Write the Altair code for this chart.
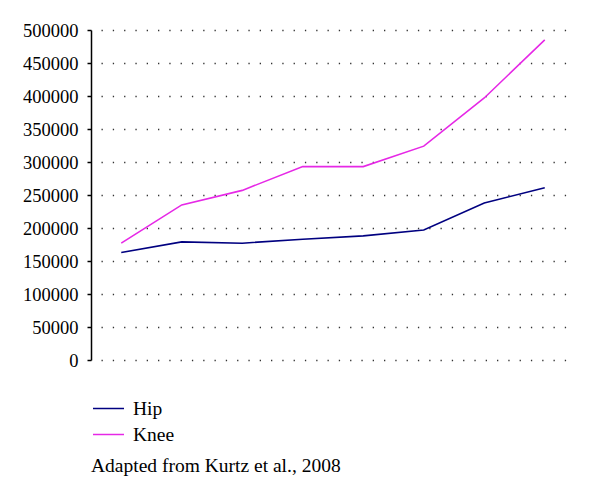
import altair as alt
import pandas as pd

years = [1, 2, 3, 4, 5, 6, 7, 8]
hip = [163000, 179000, 177000, 183000, 188000, 197000, 238000, 261000]
knee = [177000, 235000, 257000, 293000, 293000, 324000, 397000, 485000]
series = ["Hip", "Knee"]
colors = ["#000080", "#e628e6"]
caption = "Adapted from Kurtz et al., 2008"

rows = []
for i, y in enumerate(years):
    rows.append({"idx": y, "series": "Hip", "value": hip[i]})
    rows.append({"idx": y, "series": "Knee", "value": knee[i]})
df = pd.DataFrame(rows)

FONT = "Liberation Serif"

lines = alt.Chart(df).mark_line(strokeWidth=1.6).encode(
    x=alt.X("idx:O", scale=alt.Scale(type="point", padding=0.5), axis=None),
    y=alt.Y(
        "value:Q",
        scale=alt.Scale(domain=[0, 500000], nice=False),
        axis=alt.Axis(
            values=list(range(0, 500001, 50000)),
            title=None,
            format="d",
            labelFont=FONT,
            labelFontSize=18.5,
            labelColor="#000000",
            labelPadding=9,
            domainColor="#000000",
            domainWidth=1.5,
            tickColor="#000000",
            tickSize=4,
            tickWidth=1.5,
            grid=True,
            gridColor="#333333",
            gridWidth=1.3,
            gridDash=[1.3, 10],
            gridDashOffset=1.3,
        ),
    ),
    color=alt.Color(
        "series:N",
        scale=alt.Scale(domain=series, range=colors),
        legend=alt.Legend(
            title=None,
            orient="none",
            legendX=1,
            legendY=362,
            symbolType="stroke",
            symbolSize=961,
            symbolStrokeWidth=1.5,
            labelFont=FONT,
            labelFontSize=19.5,
            labelColor="#000000",
            labelOffset=8,
            rowPadding=-4,
            padding=0,
        ),
    ),
)

cap = alt.Chart(pd.DataFrame({"t": [caption]})).mark_text(
    align="left", baseline="alphabetic", font=FONT, fontSize=19.5, color="#000000"
).encode(x=alt.value(0), y=alt.value(442), text="t:N")

chart = alt.layer(lines, cap).properties(
    width=484,
    height=330,
    padding={"left": 83, "top": 22, "right": 9, "bottom": 123},
    autosize="none",
).configure_view(stroke=None)

chart.save("out.html", embed_options={"renderer": "svg", "actions": False})
